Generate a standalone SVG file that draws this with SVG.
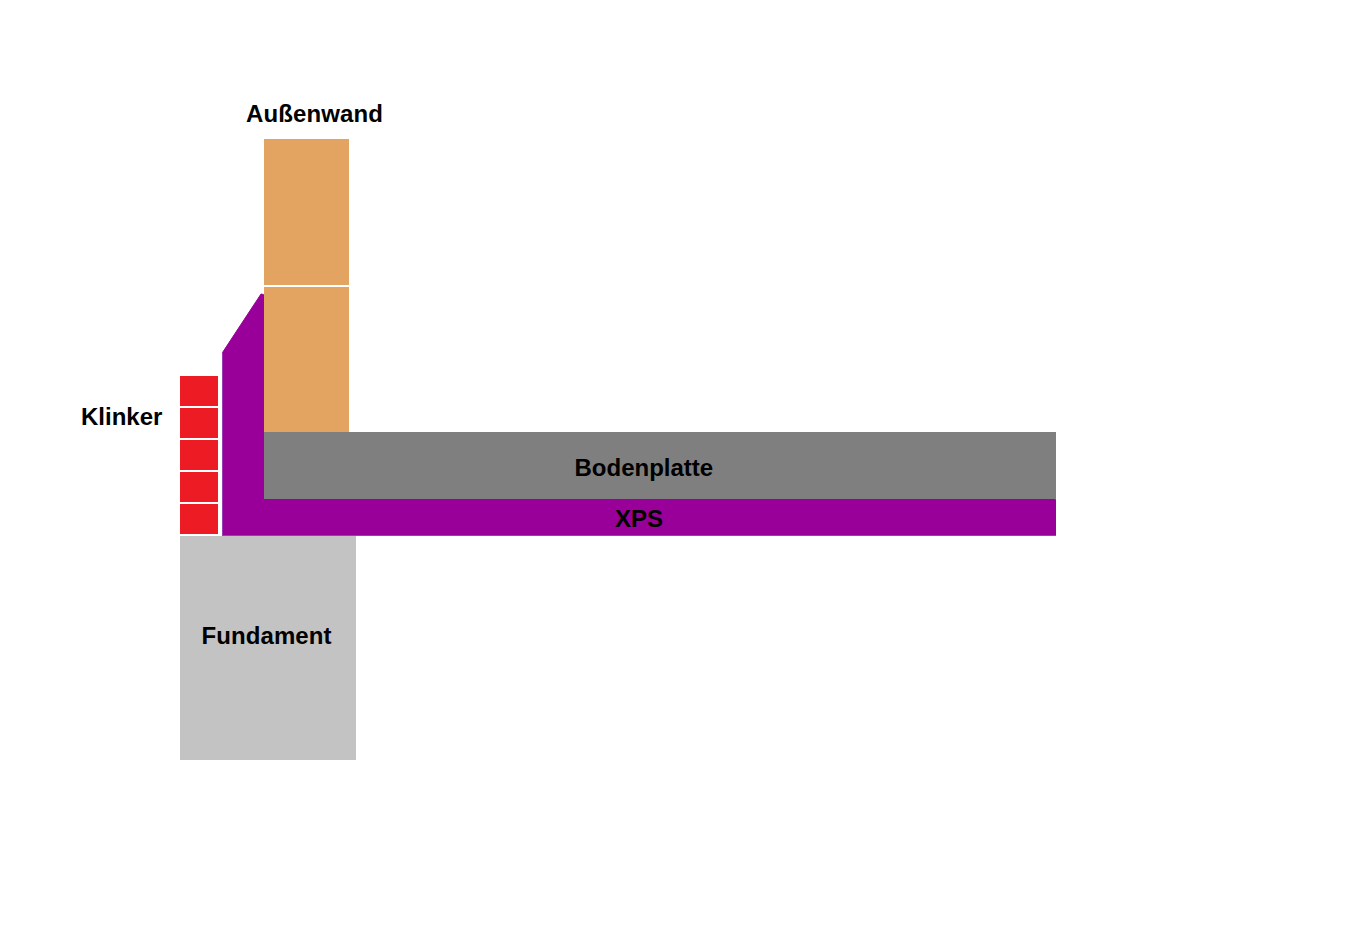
<svg xmlns="http://www.w3.org/2000/svg" width="1359" height="928" viewBox="0 0 1359 928">
<style>
text{font-family:"Liberation Sans",Arial,sans-serif;font-weight:700;font-size:24px;fill:#000}
.brick{fill:#ed1c24}
.xps{fill:#990099}
.edge{stroke:#9a3cb4;stroke-width:1;fill:none}
</style>
<rect width="1359" height="928" fill="#fff"/>
<rect id="aussenwand-oben" x="264" y="139" width="85" height="146" fill="#e3a462"/>
<rect id="aussenwand-unten" x="264" y="287" width="85" height="146" fill="#e3a462"/>
<rect id="fundament" x="180" y="536" width="176" height="224" fill="#c3c3c3"/>
<path id="xps" class="xps" stroke="#990099" stroke-width="1" stroke-linejoin="round" d="M222.500 352.500L261 294L263.500 294.500V499.500H1055.500V535.500H222.500Z"/>
<path id="xps-rand" class="edge" d="M222.500 353V535.500H1056"/>
<rect id="bodenplatte" x="264" y="432" width="792" height="67" fill="#7f7f7f"/>
<g id="klinker">
<rect class="brick" x="180" y="376" width="38" height="30"/>
<rect class="brick" x="180" y="408" width="38" height="30"/>
<rect class="brick" x="180" y="440" width="38" height="30"/>
<rect class="brick" x="180" y="472" width="38" height="30"/>
<rect class="brick" x="180" y="504" width="38" height="30"/>
</g>
<text x="246" y="122" textLength="137">Außenwand</text>
<text x="81" y="425">Klinker</text>
<text x="574.500" y="476">Bodenplatte</text>
<text x="615" y="527">XPS</text>
<text x="201.500" y="644" textLength="130">Fundament</text>
</svg>
